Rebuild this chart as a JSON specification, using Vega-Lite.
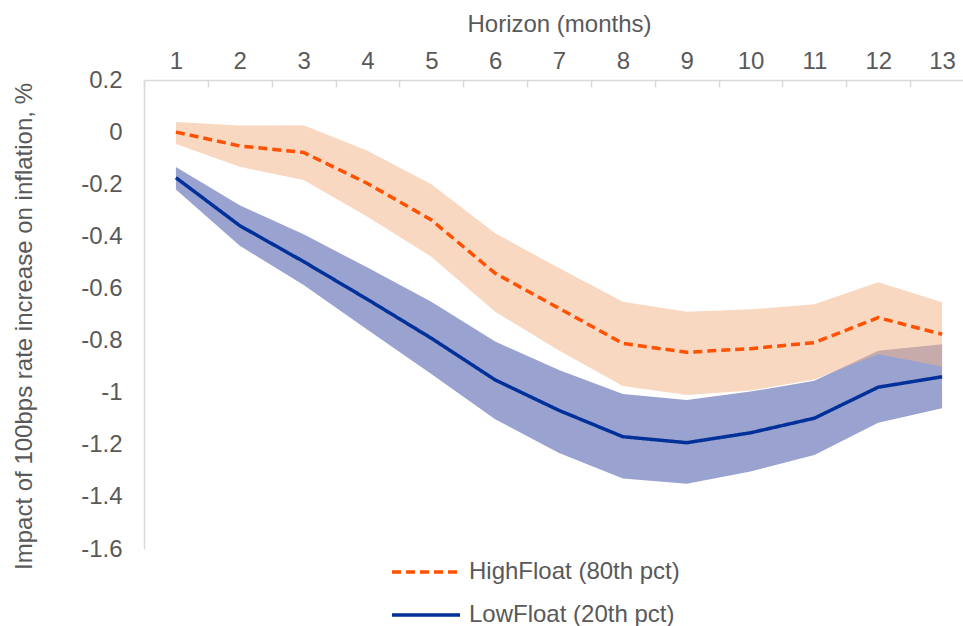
{
  "$schema": "https://vega.github.io/schema/vega-lite/v6.json",
  "width": 819,
  "height": 469,
  "autosize": {"type": "none"},
  "padding": {"left": 144, "top": 80, "right": 0, "bottom": 77},
  "background": "white",
  "config": {
    "font": "Liberation Sans",
    "view": {"stroke": null}
  },
  "data": {
    "values": [
      {"month": 1, "series": "HighFloat (80th pct)", "value": 0.000, "lower": -0.046, "upper": 0.039},
      {"month": 2, "series": "HighFloat (80th pct)", "value": -0.053, "lower": -0.133, "upper": 0.025},
      {"month": 3, "series": "HighFloat (80th pct)", "value": -0.078, "lower": -0.184, "upper": 0.026},
      {"month": 4, "series": "HighFloat (80th pct)", "value": -0.197, "lower": -0.325, "upper": -0.072},
      {"month": 5, "series": "HighFloat (80th pct)", "value": -0.337, "lower": -0.478, "upper": -0.200},
      {"month": 6, "series": "HighFloat (80th pct)", "value": -0.542, "lower": -0.689, "upper": -0.388},
      {"month": 7, "series": "HighFloat (80th pct)", "value": -0.676, "lower": -0.838, "upper": -0.522},
      {"month": 8, "series": "HighFloat (80th pct)", "value": -0.811, "lower": -0.974, "upper": -0.651},
      {"month": 9, "series": "HighFloat (80th pct)", "value": -0.845, "lower": -1.009, "upper": -0.689},
      {"month": 10, "series": "HighFloat (80th pct)", "value": -0.831, "lower": -0.992, "upper": -0.680},
      {"month": 11, "series": "HighFloat (80th pct)", "value": -0.808, "lower": -0.949, "upper": -0.661},
      {"month": 12, "series": "HighFloat (80th pct)", "value": -0.712, "lower": -0.853, "upper": -0.576},
      {"month": 13, "series": "HighFloat (80th pct)", "value": -0.776, "lower": -0.900, "upper": -0.653},
      {"month": 1, "series": "LowFloat (20th pct)", "value": -0.175, "lower": -0.220, "upper": -0.134},
      {"month": 2, "series": "LowFloat (20th pct)", "value": -0.359, "lower": -0.436, "upper": -0.281},
      {"month": 3, "series": "LowFloat (20th pct)", "value": -0.497, "lower": -0.587, "upper": -0.392},
      {"month": 4, "series": "LowFloat (20th pct)", "value": -0.642, "lower": -0.759, "upper": -0.520},
      {"month": 5, "series": "LowFloat (20th pct)", "value": -0.791, "lower": -0.928, "upper": -0.651},
      {"month": 6, "series": "LowFloat (20th pct)", "value": -0.951, "lower": -1.102, "upper": -0.804},
      {"month": 7, "series": "LowFloat (20th pct)", "value": -1.068, "lower": -1.232, "upper": -0.913},
      {"month": 8, "series": "LowFloat (20th pct)", "value": -1.169, "lower": -1.329, "upper": -1.005},
      {"month": 9, "series": "LowFloat (20th pct)", "value": -1.192, "lower": -1.350, "upper": -1.028},
      {"month": 10, "series": "LowFloat (20th pct)", "value": -1.154, "lower": -1.303, "upper": -0.996},
      {"month": 11, "series": "LowFloat (20th pct)", "value": -1.098, "lower": -1.239, "upper": -0.954},
      {"month": 12, "series": "LowFloat (20th pct)", "value": -0.979, "lower": -1.115, "upper": -0.839},
      {"month": 13, "series": "LowFloat (20th pct)", "value": -0.939, "lower": -1.060, "upper": -0.814}
    ]
  },
  "encoding": {
    "x": {
      "field": "month",
      "type": "ordinal",
      "bandPosition": 0.5,
      "scale": {"type": "band", "range": [0, 830], "paddingInner": 0, "paddingOuter": 0},
      "axis": {
        "orient": "top",
        "title": "Horizon (months)",
        "titleFontSize": 24,
        "titleFontWeight": "normal",
        "titleColor": "#595959",
        "titleX": 415,
        "titleY": -49,
        "titleAlign": "center",
        "titleBaseline": "alphabetic",
        "labelAngle": 0,
        "labelFontSize": 24,
        "labelColor": "#595959",
        "labelBaseline": "alphabetic",
        "labelPadding": 19,
        "domainColor": "#d9d9d9",
        "domainWidth": 1.5,
        "tickColor": "#d9d9d9",
        "tickWidth": 1.5,
        "tickSize": -7,
        "tickBand": "extent",
        "grid": false
      }
    }
  },
  "layer": [
    {
      "transform": [{"filter": "datum.series === 'LowFloat (20th pct)'"}],
      "mark": {"type": "area", "color": "#9aa3d0", "opacity": 1},
      "encoding": {
        "y": {
          "field": "lower",
          "type": "quantitative",
          "scale": {"domain": [-1.6, 0.2], "nice": false, "zero": false},
          "axis": {
            "orient": "left",
            "values": [0.2, 0, -0.2, -0.4, -0.6, -0.8, -1, -1.2, -1.4, -1.6],
            "labelExpr": "replace(format(datum.value, '.1~f'), '\u2212', '-')",
            "labelFontSize": 24,
            "labelColor": "#595959",
            "labelPadding": 22,
            "ticks": false,
            "grid": false,
            "domainColor": "#d9d9d9",
            "domainWidth": 1.5,
            "title": "Impact of 100bps rate increase on inflation, %",
            "titleFontSize": 24,
            "titleFontWeight": "normal",
            "titleColor": "#595959",
            "titleAngle": -90,
            "titleX": -113,
            "titleY": 246,
            "titleAlign": "center",
            "titleBaseline": "alphabetic",
            "titleLimit": 0
          }
        },
        "y2": {"field": "upper"}
      }
    },
    {
      "transform": [{"filter": "datum.series === 'HighFloat (80th pct)'"}],
      "mark": {"type": "area", "color": "#f4b183", "opacity": 0.5},
      "encoding": {
        "y": {"field": "lower", "type": "quantitative"},
        "y2": {"field": "upper"}
      }
    },
    {
      "mark": {"type": "line", "strokeWidth": 3.5},
      "encoding": {
        "y": {"field": "value", "type": "quantitative"},
        "color": {
          "field": "series",
          "type": "nominal",
          "scale": {"domain": ["HighFloat (80th pct)", "LowFloat (20th pct)"], "range": ["#ff5100", "#00309a"]},
          "legend": {
            "orient": "none",
            "legendX": 246,
            "legendY": 480,
            "direction": "vertical",
            "title": null,
            "symbolType": "stroke",
            "symbolSize": 4624,
            "symbolStrokeWidth": 3.5,
            "labelFontSize": 24,
            "labelColor": "#595959",
            "labelOffset": 7,
            "labelLimit": 0,
            "clipHeight": 24,
            "rowPadding": 19,
            "padding": 0
          }
        },
        "strokeDash": {
          "field": "series",
          "type": "nominal",
          "scale": {"domain": ["HighFloat (80th pct)", "LowFloat (20th pct)"], "range": [[9, 5], [1, 0]]},
          "legend": {
            "orient": "none",
            "legendX": 246,
            "legendY": 480,
            "direction": "vertical",
            "title": null,
            "symbolType": "stroke",
            "symbolSize": 4624,
            "symbolStrokeWidth": 3.5,
            "labelFontSize": 24,
            "labelColor": "#595959",
            "labelOffset": 7,
            "labelLimit": 0,
            "clipHeight": 24,
            "rowPadding": 19,
            "padding": 0
          }
        }
      }
    }
  ]
}
